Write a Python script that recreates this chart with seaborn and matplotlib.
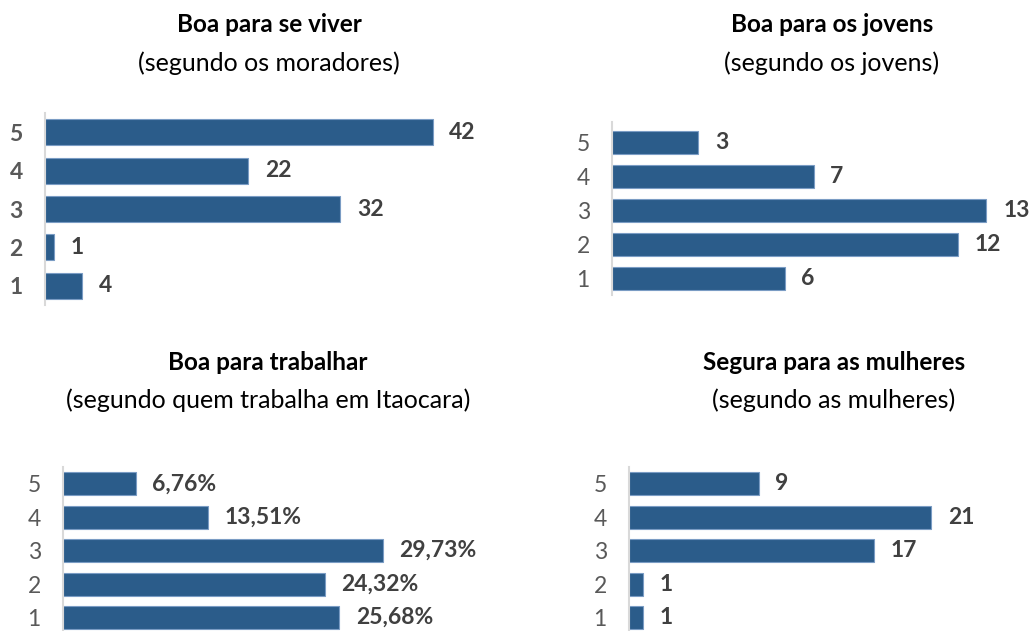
import pandas as pd
import seaborn as sns
import matplotlib.pyplot as plt

# notas de 5 (topo) a 1
notas = ['5', '4', '3', '2', '1']
viver = [42, 22, 32, 1, 4]
jovens = [3, 7, 13, 12, 6]
trabalhar = [6.76, 13.51, 29.73, 24.32, 25.68]
mulheres = [9, 21, 17, 1, 1]

titulos = ['Boa para se viver', 'Boa para os jovens',
           'Boa para trabalhar', 'Segura para as mulheres']
subtitulos = ['(segundo os moradores)', '(segundo os jovens)',
              '(segundo quem trabalha em Itaocara)', '(segundo as mulheres)']

sns.set_style('white')
plt.rcParams['font.family'] = ['Lato', 'DejaVu Sans']

W, H = 1029, 631
fig = plt.figure(figsize=(W / 100, H / 100), dpi=100)

bar_color = '#2B5C8A'
edge_color = '#7A9CC4'
label_color = '#404040'
tick_color = '#595959'


def painel(left, top, bottom, width, xmax, ylim, valores, fmt, bold_ticks,
           title_xy, titulo, subtitulo):
    ax = fig.add_axes([left / W, 1 - bottom / H, width / W, (bottom - top) / H])
    df = pd.DataFrame({'nota': notas, 'valor': valores})
    sns.barplot(data=df, x='valor', y='nota', orient='h', order=notas,
                color=bar_color, width=0.68, edgecolor=edge_color,
                linewidth=0.8, saturation=1, ax=ax)
    ax.set_xlim(0, xmax)
    ax.set_ylim(*ylim)
    ax.set_xlabel('')
    ax.set_ylabel('')
    ax.set_xticks([])
    for s in ['top', 'right', 'bottom']:
        ax.spines[s].set_visible(False)
    ax.spines['left'].set_color('#D9D9D9')
    ax.spines['left'].set_linewidth(1.5)
    ax.tick_params(axis='y', length=0, pad=16, labelsize=16.5, labelcolor=tick_color)
    if bold_ticks:
        for t in ax.get_yticklabels():
            t.set_fontweight('bold')
    ax.bar_label(ax.containers[0], labels=[fmt(v) for v in valores],
                 padding=12, fontsize=16.5, fontweight='bold', color=label_color)
    fig.text(title_xy[0] / W, 1 - title_xy[1] / H, titulo, ha='center', va='center',
             fontsize=17.5, fontweight='bold', color='black')
    fig.text(title_xy[0] / W, 1 - (title_xy[1] + 38) / H, subtitulo, ha='center',
             va='center', fontsize=18, color='black')
    return ax


inteiro = lambda v: f'{v:d}'
pct = lambda v: f'{v:.2f}%'.replace('.', ',')

painel(45, 113, 305, 443, 48, (4.5, -0.5), viver, inteiro, True,
       (269, 25), titulos[0], subtitulos[0])
painel(612, 122, 295, 413, 14.34, (4.5, -0.62), jovens, inteiro, False,
       (832, 25), titulos[1], subtitulos[1])
painel(63, 467, 631, 440, 40.9, (4.4, -0.5), trabalhar, pct, False,
       (268, 362), titulos[2], subtitulos[2])
painel(629, 467, 631, 390, 27.1, (4.4, -0.5), mulheres, inteiro, False,
       (834, 362), titulos[3], subtitulos[3])

fig.savefig('out.png', dpi=100)
